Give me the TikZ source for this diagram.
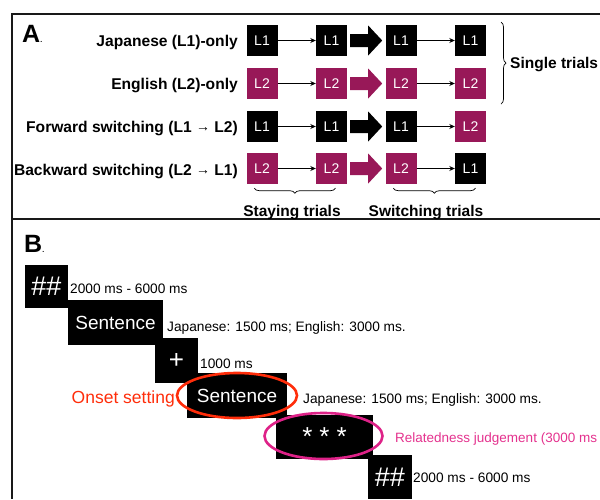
\documentclass[tikz,border=0pt]{standalone}
\usepackage{fontspec}
\setmainfont{Liberation Sans}
\usetikzlibrary{arrows.meta,decorations.pathreplacing,calc}
\definecolor{mag}{RGB}{152,24,88}
\definecolor{pinktext}{RGB}{228,50,142}
\definecolor{pinkring}{RGB}{222,34,136}
\definecolor{redo}{RGB}{255,45,10}
\newcommand{\smallarr}{\raisebox{0.8pt}{\fontsize{14}{14}\selectfont →}}
\begin{document}
\begin{tikzpicture}[x=1pt,y=-1pt,
  lbox/.style={fill=black, text=white, minimum size=31pt, inner sep=0pt, font=\fontsize{14}{14}\selectfont},
  mbox/.style={lbox, fill=mag},
  rowlabel/.style={anchor=base east, inner sep=0pt, font=\bfseries\fontsize{15.6}{16}\selectfont},
  bracelabel/.style={anchor=base, inner sep=0pt, font=\bfseries\fontsize{15.5}{16}\selectfont},
  thinarrow/.style={-{Stealth[length=5.5pt,width=5pt]}, line width=0.9pt},
  bracestyle/.style={decorate, decoration={brace, amplitude=5pt}, line width=0.7pt},
  bbox/.style={fill=black, text=white, inner sep=0pt},
  timelabel/.style={anchor=base west, inner sep=0pt, font=\fontsize{13.7}{14}\selectfont},
  framestyle/.style={line width=1.8pt, color=black!90}
]
\useasboundingbox (0,0) rectangle (600,499);
% frame
\draw[framestyle] (600,14) -- (12,14) -- (12,499);
\draw[framestyle] (12,219) -- (600,219);

% ---------- A ----------
\node[anchor=base west, inner sep=0pt, font=\bfseries\fontsize{25}{25}\selectfont] (labA) at (22,42) {A{\fontsize{7}{7}\selectfont .}};

\node[rowlabel] (t1) at (238,46.5) {Japanese (L1)-only};
\node[rowlabel] (t2) at (238,89) {English (L2)-only};
\node[rowlabel] (t3) at (238,132) {Forward switching (L1 \smallarr\ L2)};
\node[rowlabel] (t4) at (238,175) {Backward switching (L2 \smallarr\ L1)};

% row 1
\node[lbox] (a1) at (262,40.5) {L1};
\node[lbox] (a2) at (331.5,40.5) {L1};
\node[lbox] (a3) at (401,40.5) {L1};
\node[lbox] (a4) at (470.5,40.5) {L1};
% row 2
\node[mbox] (b1) at (262,83.5) {L2};
\node[mbox] (b2) at (331.5,83.5) {L2};
\node[mbox] (b3) at (401,83.5) {L2};
\node[mbox] (b4) at (470.5,83.5) {L2};
% row 3
\node[lbox] (c1) at (262,126.5) {L1};
\node[lbox] (c2) at (331.5,126.5) {L1};
\node[lbox] (c3) at (401,126.5) {L1};
\node[mbox] (c4) at (470.5,126.5) {L2};
% row 4
\node[mbox] (d1) at (262,168.5) {L2};
\node[mbox] (d2) at (331.5,168.5) {L2};
\node[mbox] (d3) at (401,168.5) {L2};
\node[lbox] (d4) at (470.5,168.5) {L1};

\foreach \r/\col in {a/black,b/mag,c/black,d/mag}{
  \draw[thinarrow] (\r1) -- (\r2);
  \draw[thinarrow] (\r3) -- (\r4);
  \fill[\col] ($(\r2.east)+(3,-6.5)$) -- ($(\r2.east)+(21,-6.5)$) -- ($(\r2.east)+(21,-15)$)
     -- ($(\r2.east)+(35,0)$) -- ($(\r2.east)+(21,15)$) -- ($(\r2.east)+(21,6.5)$)
     -- ($(\r2.east)+(3,6.5)$) -- cycle;
}

% braces
\coordinate (sbt) at (501,22);
\coordinate (sbb) at (501,104);
\draw[bracestyle] (sbt) -- (sbb);
\node[anchor=base west, inner sep=0pt, font=\bfseries\fontsize{15.5}{16}\selectfont] (single) at (510,68) {Single trials};

\coordinate (st1) at ($(d1.south west)+(8,4)$);
\coordinate (st2) at ($(d2.south)+(4,4)$);
\draw[bracestyle, decoration={mirror}] (st1) -- (st2);
\node[bracelabel] (staying) at (292,216) {Staying trials};

\coordinate (sw1) at ($(d3.south west)+(8,4)$);
\coordinate (sw2) at ($(d4.south)+(5,4)$);
\draw[bracestyle, decoration={mirror}] (sw1) -- (sw2);
\node[bracelabel] (switching) at (426,216) {Switching trials};

% ---------- B ----------
\node[anchor=base west, inner sep=0pt, font=\bfseries\fontsize{25}{25}\selectfont] (labB) at (24,252) {B{\fontsize{7}{7}\selectfont .}};

\node[bbox, minimum width=43pt, minimum height=43pt, font=\fontsize{27}{27}\selectfont] (p1) at (46.5,286.5) {\#\#};
\node[bbox, minimum width=95pt, minimum height=45pt, font=\fontsize{19}{19}\selectfont] (p2) at (115.5,322.5) {Sentence};
\node[bbox, minimum width=43pt, minimum height=45pt, font=\fontsize{26}{26}\selectfont] (p3) at (176.5,360.5) {+};
\node[bbox, minimum width=100pt, minimum height=45pt, font=\fontsize{19}{19}\selectfont] (p4) at (237,395.5) {Sentence};
\node[bbox, minimum width=97pt, minimum height=44pt, font=\fontsize{26}{26}\selectfont] (p5) at (324.5,437) {\raisebox{-4pt}{*\hspace{7pt}*\hspace{7pt}*}};
\node[bbox, minimum width=44pt, minimum height=44pt, font=\fontsize{27}{27}\selectfont] (p6) at (390,477) {\#\#};

\node[timelabel] (l1) at (70,293) {2000 ms - 6000 ms};
\node[timelabel] (l2) at (167,331) {Japanese: 1500 ms; English: 3000 ms.};
\node[timelabel] (l3) at (200,368) {1000 ms};
\node[timelabel] (l4) at (303,403) {Japanese: 1500 ms; English: 3000 ms.};
\node[timelabel, text=pinktext, font=\fontsize{13.5}{14}\selectfont] (l5) at (395,442) {Relatedness judgement (3000 ms};
\node[timelabel] (l6) at (413,482) {2000 ms - 6000 ms};

\node[anchor=base east, inner sep=0pt, text=redo, font=\fontsize{17.5}{18}\selectfont] (onset) at (175,403) {Onset setting};

\draw[redo, line width=2.6pt] (p4.center) ellipse [x radius=60pt, y radius=22.5pt];
\draw[pinkring, line width=2.6pt] ($(p5.center)+(-1,-1)$) ellipse [x radius=59pt, y radius=23pt];
\end{tikzpicture}
\end{document}
